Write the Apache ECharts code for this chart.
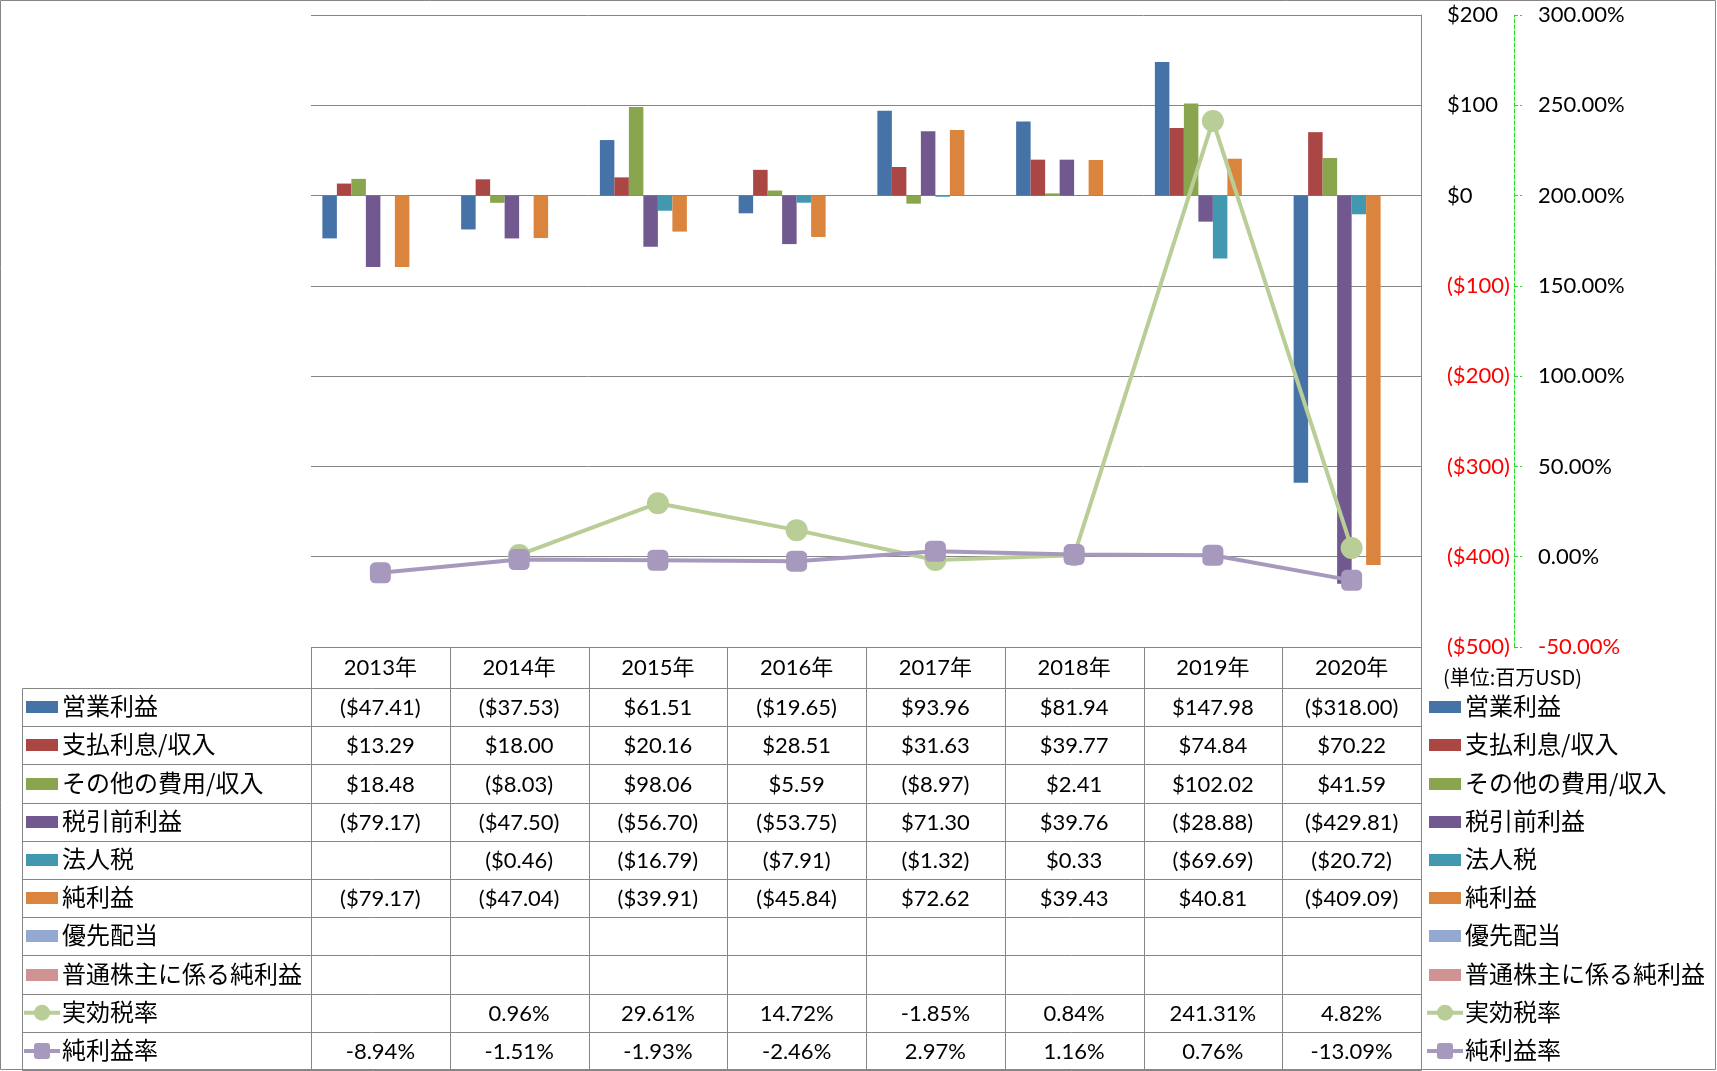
<!DOCTYPE html>
<html><head><meta charset="utf-8">
<script src="https://cdn.jsdelivr.net/npm/echarts/dist/echarts.min.js"></script>
<style>html,body{margin:0;padding:0;background:#fff}#c{width:1717px;height:1071px}</style>
</head><body><div id="c"></div>
<script>
// ---- data ----
const categories = ['2013年','2014年','2015年','2016年','2017年','2018年','2019年','2020年'];
const opIncome      = [-47.41, -37.53, 61.51, -19.65, 93.96, 81.94, 147.98, -318.00];
const interest      = [13.29, 18.00, 20.16, 28.51, 31.63, 39.77, 74.84, 70.22];
const otherExp      = [18.48, -8.03, 98.06, 5.59, -8.97, 2.41, 102.02, 41.59];
const preTax        = [-79.17, -47.50, -56.70, -53.75, 71.30, 39.76, -28.88, -429.81];
const corpTax       = [null, -0.46, -16.79, -7.91, -1.32, 0.33, -69.69, -20.72];
const netIncome     = [-79.17, -47.04, -39.91, -45.84, 72.62, 39.43, 40.81, -409.09];
const prefDiv       = [null, null, null, null, null, null, null, null];
const commonNet     = [null, null, null, null, null, null, null, null];
const effTaxRate    = [null, 0.96, 29.61, 14.72, -1.85, 0.84, 241.31, 4.82];
const netMargin     = [-8.94, -1.51, -1.93, -2.46, 2.97, 1.16, 0.76, -13.09];
const leftTicks  = [-500, -400, -300, -200, -100, 0, 100, 200];
const rightTicks = [-50, 0, 50, 100, 150, 200, 250, 300];
const unitLabel = '(単位:百万USD)';

const barSeries = [
  {name:'営業利益', data:opIncome, color:'#4572A7'},
  {name:'支払利息/収入', data:interest, color:'#AA4643'},
  {name:'その他の費用/収入', data:otherExp, color:'#89A54E'},
  {name:'税引前利益', data:preTax, color:'#71588F'},
  {name:'法人税', data:corpTax, color:'#4198AF'},
  {name:'純利益', data:netIncome, color:'#DB843D'},
  {name:'優先配当', data:prefDiv, color:'#93A9CF'},
  {name:'普通株主に係る純利益', data:commonNet, color:'#D19392'}
];
const lineSeries = [
  {name:'実効税率', data:effTaxRate, color:'#B9CD96', symbol:'circle', size:22},
  {name:'純利益率', data:netMargin, color:'#A699BD', symbol:'roundRect', size:21}
];

// ---- layout ----
const W = 1717, H = 1071;
const G = {left:311, right:1421, top:15, bottom:647};
const colW = (G.right - G.left) / categories.length;
const headerBottom = 688, rowH = 38.2, tableLeft = 22;
const tableBottom = headerBottom + rowH * 10;
const GRID = '#868686';
const NUMFONT = 'Lato, "Noto Sans CJK JP", sans-serif';
const JPFONT = '"Noto Sans CJK JP", sans-serif';

function fmtMoney(v){ if(v==null) return ''; const s='$'+Math.abs(v).toFixed(2); return v<0?'('+s+')':s; }
function fmtPct(v){ if(v==null) return ''; return v.toFixed(2)+'%'; }

const px = v => Math.round(v) + 0.5;
const graphic = [];
function line(x1,y1,x2,y2,stroke){ graphic.push({type:'line', silent:true, z:50, shape:{x1:px(x1),y1:px(y1),x2:px(x2),y2:px(y2)}, style:{stroke:stroke||GRID, lineWidth:1}}); }

// outer border
graphic.push({type:'rect', silent:true, z:50, shape:{x:0.5,y:0.5,width:W-2,height:H-2}, style:{fill:null, stroke:GRID, lineWidth:1}});
// table horizontal lines
line(G.left, G.bottom, G.right, G.bottom);
for (let k=0;k<=10;k++){ const y = headerBottom + k*rowH; line(tableLeft, y, G.right, y); }
// verticals
line(tableLeft, headerBottom, tableLeft, tableBottom);
for (let i=0;i<=categories.length;i++){ const x = G.left + i*colW; line(x, i===categories.length?G.top:G.bottom, x, tableBottom); }

const rows = barSeries.map(s=>({name:s.name, data:s.data, color:s.color, kind:'bar'}))
  .concat(lineSeries.map(s=>({name:s.name, data:s.data, color:s.color, kind:'line', symbol:s.symbol})));

rows.forEach((r, k) => {
  const cy = headerBottom + rowH*(k+0.5);
  r.data.forEach((v, i) => {
    const t = r.kind==='bar' ? fmtMoney(v) : fmtPct(v);
    if (!t) return;
    graphic.push({type:'text', silent:true, z:60, x: G.left + colW*(i+0.5), y: cy + 1,
      style:{text:t, fill:'#000', font:'22px '+NUMFONT, align:'center', verticalAlign:'middle'}});
  });
  [[26, 62], [1429, 1465]].forEach(([kx, tx]) => {
    if (r.kind==='bar'){
      graphic.push({type:'rect', silent:true, z:60, shape:{x:kx, y:Math.round(cy)-6, width:32, height:12}, style:{fill:r.color}});
    } else {
      graphic.push({type:'line', silent:true, z:60, shape:{x1:kx-2, y1:cy, x2:kx+34, y2:cy}, style:{stroke:r.color, lineWidth:4}});
      if (r.symbol==='circle')
        graphic.push({type:'circle', silent:true, z:61, shape:{cx:kx+16, cy:cy, r:8}, style:{fill:r.color}});
      else
        graphic.push({type:'rect', silent:true, z:61, shape:{x:kx+8, y:cy-8, width:16, height:16, r:3}, style:{fill:r.color}});
    }
    graphic.push({type:'text', silent:true, z:60, x:tx, y:cy-1,
      style:{text:r.name, fill:'#000', font:'24px '+JPFONT, align:'left', verticalAlign:'middle'}});
  });
});
graphic.push({type:'text', silent:true, z:60, x:1443, y:677,
  style:{text:unitLabel, fill:'#000', font:'20px '+JPFONT, align:'left', verticalAlign:'middle'}});

const series = barSeries.map(s => ({
  name:s.name, type:'bar', yAxisIndex:0, data:s.data,
  barGap:'0%', barCategoryGap:'16.4%',
  itemStyle:{color:s.color}, emphasis:{disabled:true}
})).concat(lineSeries.map((s, j) => ({
  name:s.name, type:'line', yAxisIndex:1, data:s.data, z:10+j,
  symbol:s.symbol, symbolSize:s.size, showSymbol:true, connectNulls:false,
  lineStyle:{color:s.color, width:4}, itemStyle:{color:s.color},
  emphasis:{disabled:true}
})));

const chart = echarts.init(document.getElementById('c'), null, {renderer:'canvas'});
chart.setOption({
  animation:false,
  backgroundColor:'#fff',
  grid:{left:G.left, right:W-G.right, top:G.top, bottom:H-G.bottom, containLabel:false},
  xAxis:{type:'category', data:categories, position:'bottom',
    axisLine:{show:false}, axisTick:{show:false}, splitLine:{show:false},
    axisLabel:{interval:0, margin:10, color:'#000', fontSize:22, fontFamily:NUMFONT}},
  yAxis:[
    {type:'value', position:'right', min:leftTicks[0], max:leftTicks[leftTicks.length-1], interval:100,
      axisLine:{show:true, lineStyle:{color:GRID, width:1}}, axisTick:{show:false},
      splitLine:{show:true, lineStyle:{color:GRID, width:1}},
      axisLabel:{margin:26, fontSize:22, fontFamily:NUMFONT,
        formatter: v => v<0 ? '{r|($'+(-v)+')}' : '{b|$'+v+'}',
        rich:{r:{color:'#ff0000', fontSize:22, fontFamily:NUMFONT}, b:{color:'#000', fontSize:22, fontFamily:NUMFONT}}}},
    {type:'value', position:'right', offset:93, min:rightTicks[0], max:rightTicks[rightTicks.length-1], interval:50,
      axisLine:{show:true, lineStyle:{color:'#22dd22', width:1, type:'dashed'}},
      axisTick:{show:true, inside:false, length:8, lineStyle:{color:'#22dd22', width:1, type:'dashed'}},
      splitLine:{show:false},
      axisLabel:{margin:24, fontSize:22, fontFamily:NUMFONT,
        formatter: v => v<0 ? '{r|'+v.toFixed(2)+'%}' : '{b|'+v.toFixed(2)+'%}',
        rich:{r:{color:'#ff0000', fontSize:22, fontFamily:NUMFONT}, b:{color:'#000', fontSize:22, fontFamily:NUMFONT}}}}
  ],
  series: series,
  graphic: graphic
});
</script>
</body></html>
